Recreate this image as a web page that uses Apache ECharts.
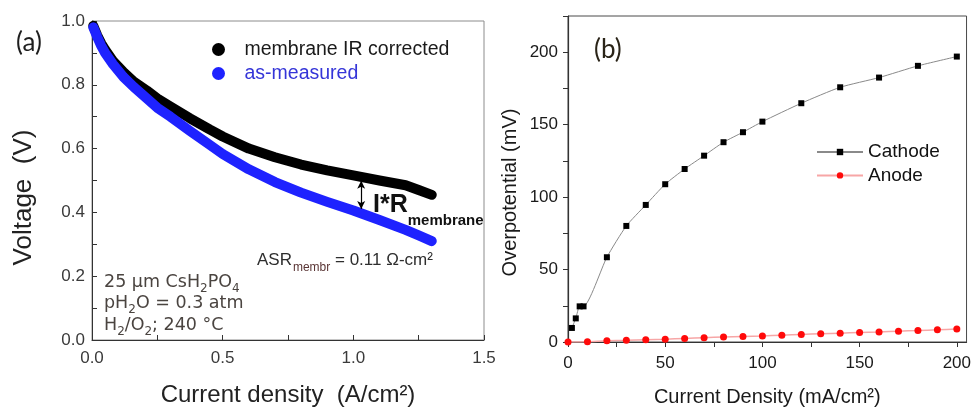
<!DOCTYPE html>
<html>
<head>
<meta charset="utf-8">
<script src="https://cdn.jsdelivr.net/npm/echarts@6/dist/echarts.min.js"></script>
<style>
  html, body { margin: 0; padding: 0; background: #fff; }
  #chart { width: 974px; height: 412px; }
</style>
</head>
<body>
<div id="chart"></div>
<script>
// (a) Polarization curves: current density (A/cm2) vs cell voltage (V)
const iCorrected = [0.005, 0.02, 0.035, 0.05, 0.08, 0.12, 0.16, 0.21, 0.25, 0.30, 0.375, 0.45, 0.50, 0.60, 0.70, 0.80, 0.90, 1.00, 1.10, 1.20, 1.25, 1.30];
const vCorrected = [0.985, 0.955, 0.930, 0.910, 0.875, 0.840, 0.810, 0.782, 0.757, 0.732, 0.695, 0.660, 0.638, 0.600, 0.573, 0.550, 0.532, 0.516, 0.500, 0.485, 0.470, 0.455];
const iMeasured  = [0.005, 0.02, 0.035, 0.05, 0.08, 0.12, 0.16, 0.21, 0.25, 0.30, 0.375, 0.45, 0.50, 0.60, 0.70, 0.80, 0.90, 1.00, 1.10, 1.20, 1.25, 1.30];
const vMeasured  = [0.980, 0.950, 0.923, 0.900, 0.865, 0.825, 0.793, 0.757, 0.728, 0.700, 0.655, 0.612, 0.583, 0.535, 0.495, 0.462, 0.433, 0.406, 0.376, 0.345, 0.328, 0.310];
// Ohmic drop marker between the two curves: [current density, upper V, lower V]
const irArrow = [1.03, 0.499, 0.411];

// (b) Electrode overpotentials: current density (mA/cm2) vs overpotential (mV)
const jCathode   = [2, 4, 6, 8, 20, 30, 40, 50, 60, 70, 80, 90, 100, 120, 140, 160, 180, 200];
const etaCathode = [9.7, 16.3, 24.6, 24.6, 58.5, 80.1, 94.6, 108.9, 119.4, 128.6, 137.9, 144.8, 152.1, 164.8, 175.8, 182.5, 190.6, 197.0];
const jAnode     = [0, 10, 20, 30, 40, 50, 60, 70, 80, 90, 100, 110, 120, 130, 140, 150, 160, 170, 180, 190, 200];
const etaAnode   = [0, 0.2, 0.9, 1.2, 1.6, 1.9, 2.5, 3.0, 3.4, 3.8, 4.2, 4.7, 5.2, 5.7, 6.1, 6.5, 6.9, 7.5, 7.9, 8.4, 9.0];

// Tick values for panel (b)
const bXTickValues  = [0, 25, 50, 75, 100, 125, 150, 175, 200];
const bXLabelValues = [0, 50, 100, 150, 200];
const bYTickValues  = [0, 25, 50, 75, 100, 125, 150, 175, 200, 225];
const bYLabelValues = [0, 50, 100, 150, 200];

const zip = (xs, ys) => xs.map((x, k) => [x, ys[k]]);
const SANS = 'Liberation Sans, Arial, sans-serif';
const VERDANA = '"DejaVu Sans", Verdana, sans-serif';

const chart = echarts.init(document.getElementById('chart'), null, { renderer: 'canvas' });

chart.setOption({
  animation: false,
  backgroundColor: '#fff',
  grid: [
    { left: 92, top: 21, width: 392, height: 324, show: true, borderColor: '#8c8c8c', borderWidth: 1, backgroundColor: 'transparent' },
    { left: 568, top: 16, width: 402, height: 326, show: true, borderColor: '#4a4a4a', borderWidth: 1, backgroundColor: 'transparent' }
  ],
  xAxis: [
    {
      gridIndex: 0, type: 'value', min: 0, max: 1.5, interval: 0.5,
      name: 'Current density  (A/cm²)', nameLocation: 'middle', nameGap: 43,
      nameTextStyle: { fontFamily: SANS, fontSize: 24, color: '#222' },
      axisLine: { show: true, onZero: false, lineStyle: { color: '#333', width: 1 } },
      axisTick: { show: true, inside: true, length: 5, lineStyle: { color: '#333' } },
      minorTick: { show: true, splitNumber: 2, length: 5, lineStyle: { color: '#333' } },
      axisLabel: { fontFamily: SANS, fontSize: 17, color: '#3a3a3a', margin: 10, formatter: v => v.toFixed(1) },
      splitLine: { show: false }
    },
    {
      gridIndex: 1, type: 'value', min: 0, max: 205,
      name: 'Current Density (mA/cm²)', nameLocation: 'middle', nameGap: 45,
      nameTextStyle: { fontFamily: SANS, fontSize: 20, color: '#1a1a1a' },
      axisLine: { show: true, onZero: false, lineStyle: { color: '#333', width: 1.2 } },
      axisTick: { show: true, inside: false, length: 5, customValues: bXTickValues, lineStyle: { color: '#333' } },
      axisLabel: { fontFamily: SANS, fontSize: 17, color: '#1a1a1a', margin: 13, customValues: bXLabelValues },
      splitLine: { show: false }
    }
  ],
  yAxis: [
    {
      gridIndex: 0, type: 'value', min: 0, max: 1, interval: 0.2,
      name: 'Voltage  (V)', nameLocation: 'middle', nameGap: 55, nameRotate: 90,
      nameTextStyle: { fontFamily: SANS, fontSize: 26, color: '#222', padding: [0, 34, 0, 0] },
      axisLine: { show: true, onZero: false, lineStyle: { color: '#333', width: 1 } },
      axisTick: { show: true, inside: true, length: 5, lineStyle: { color: '#333' } },
      minorTick: { show: true, splitNumber: 2, length: 5, lineStyle: { color: '#333' } },
      axisLabel: { fontFamily: SANS, fontSize: 17, color: '#3a3a3a', margin: 7, formatter: v => v.toFixed(1) },
      splitLine: { show: false }
    },
    {
      gridIndex: 1, type: 'value', min: 0, max: 225,
      name: 'Overpotential (mV)', nameLocation: 'middle', nameGap: 48, nameRotate: 90,
      nameTextStyle: { fontFamily: SANS, fontSize: 20, color: '#1a1a1a', padding: [0, 27, 0, 0] },
      axisLine: { show: true, onZero: false, lineStyle: { color: '#333', width: 1.2 } },
      axisTick: { show: true, inside: false, length: 5, customValues: bYTickValues, lineStyle: { color: '#333' } },
      axisLabel: { fontFamily: SANS, fontSize: 17, color: '#1a1a1a', margin: 10, customValues: bYLabelValues },
      splitLine: { show: false }
    }
  ],
  legend: [
    {
      data: [
        { name: 'membrane IR corrected', textStyle: { color: '#1a1a1a' } },
        { name: 'as-measured', textStyle: { color: '#3535d8' } }
      ],
      orient: 'vertical', left: 207, top: 34,
      icon: 'circle', itemWidth: 42, itemHeight: 13, itemGap: 3,
      selectedMode: false,
      textStyle: { fontFamily: SANS, fontSize: 19.5, lineHeight: 21 }
    },
    {
      data: ['Cathode', 'Anode'],
      orient: 'vertical', left: 811, top: 137,
      itemWidth: 46, itemHeight: 8, itemGap: 3.4,
      selectedMode: false,
      textStyle: { fontFamily: SANS, fontSize: 19, lineHeight: 20, color: '#111' }
    }
  ],
  series: [
    {
      name: 'membrane IR corrected', type: 'line', xAxisIndex: 0, yAxisIndex: 0,
      data: zip(iCorrected, vCorrected),
      symbol: 'none', smooth: false,
      itemStyle: { color: '#000' },
      lineStyle: { color: '#000', width: 10, cap: 'round', join: 'round' },
      markLine: {
        silent: true, animation: false,
        symbol: ['arrow', 'arrow'], symbolSize: [6, 8],
        label: { show: false },
        lineStyle: { color: '#000', width: 1.2, type: 'solid' },
        data: [[ { coord: [irArrow[0], irArrow[1]] }, { coord: [irArrow[0], irArrow[2]] } ]]
      }
    },
    {
      name: 'as-measured', type: 'line', xAxisIndex: 0, yAxisIndex: 0,
      data: zip(iMeasured, vMeasured),
      symbol: 'none', smooth: false,
      itemStyle: { color: '#1e22ff' },
      lineStyle: { color: '#1e22ff', width: 10, cap: 'round', join: 'round' }
    },
    {
      name: 'Cathode', type: 'line', xAxisIndex: 1, yAxisIndex: 1,
      data: zip(jCathode, etaCathode),
      symbol: 'rect', symbolSize: 6, smooth: 0.2,
      itemStyle: { color: '#000' },
      lineStyle: { color: '#8a8a8a', width: 1 }
    },
    {
      name: 'Anode', type: 'line', xAxisIndex: 1, yAxisIndex: 1,
      data: zip(jAnode, etaAnode),
      symbol: 'circle', symbolSize: 7, smooth: 0.2,
      itemStyle: { color: '#ff0a0a' },
      lineStyle: { color: '#f7a6a6', width: 1.5 }
    }
  ],
  graphic: [
    { type: 'text', left: 16, top: 30, style: { text: '(a)', font: '26px Lato, sans-serif', fill: '#1e1e1e' } },
    { type: 'text', left: 594, top: 37, style: { text: '(b)', font: '26px Lato, sans-serif', fill: '#2a2418' } },
    {
      type: 'text', left: 373, top: 193,
      style: {
        text: '{a|I*R}{b|membrane}',
        rich: {
          a: { fontFamily: SANS, fontSize: 25, fontWeight: 'bold', lineHeight: 30, verticalAlign: 'top', fill: '#111' },
          b: { fontFamily: SANS, fontSize: 15, fontWeight: 'bold', lineHeight: 15, padding: [20, 0, 0, 0], verticalAlign: 'top', fill: '#111' }
        }
      }
    },
    {
      type: 'text', left: 257, top: 252,
      style: {
        text: '{a|ASR}{s|membr}{a| = 0.11 Ω-cm²}',
        rich: {
          a: { fontFamily: SANS, fontSize: 17, lineHeight: 20, verticalAlign: 'top', fill: '#2e2e2e' },
          s: { fontFamily: SANS, fontSize: 12, lineHeight: 12, padding: [10, 0, 0, 1], verticalAlign: 'top', fill: '#5a3535' }
        }
      }
    },
    {
      type: 'text', left: 104, top: 273,
      style: {
        text: '{n|25 µm CsH}{s|2}{n|PO}{s|4}\n{n|pH}{s|2}{n|O = 0.3 atm}\n{n|H}{s|2}{n|/O}{s|2}{n|; 240 °C}',
        rich: {
          n: { fontFamily: VERDANA, fontSize: 17.5, lineHeight: 21.5, verticalAlign: 'top', fill: '#4a4440' },
          s: { fontFamily: VERDANA, fontSize: 12, lineHeight: 12, padding: [9.5, 0, 0, 0], verticalAlign: 'top', fill: '#4a4440' }
        }
      }
    }
  ]
});
</script>
</body>
</html>
